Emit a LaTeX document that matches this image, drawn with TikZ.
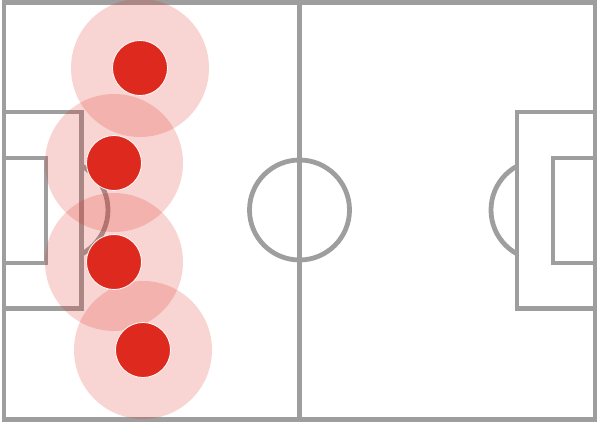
\documentclass[tikz,border=0pt]{standalone}
\usetikzlibrary{positioning}
\definecolor{pitchgray}{RGB}{158,158,158}
\definecolor{dotred}{RGB}{222,42,30}

\begin{document}
\begin{tikzpicture}[x=1pt, y=-1pt,
    pitchline/.style={draw=pitchgray, line width=4.8pt},
    halo/.style={circle, fill=dotred, fill opacity=0.2, minimum size=138pt, inner sep=0pt},
    player/.style={circle, fill=dotred, draw=white, line width=0.8pt, minimum size=55pt, inner sep=0pt}]
    \useasboundingbox (0,0) rectangle (599,422);
    % pitch
    \draw[pitchline] (4,2.5) rectangle (595,419.5);
    \draw[pitchline] (299.5,2.5) -- (299.5,419.5);
    \draw[pitchline] (299.5,210) circle[radius=50pt];
    % left end
    \draw[pitchline] (4,112) rectangle (81.5,308.5);
    \draw[pitchline] (4,158) rectangle (46,263);
    \begin{scope}
      \clip (81.5,120) rectangle (130,300);
      \draw[pitchline] (58,210) circle[radius=50pt];
    \end{scope}
    % right end
    \draw[pitchline] (595,112) rectangle (517,308.5);
    \draw[pitchline] (595,158) rectangle (553,263);
    \begin{scope}
      \clip (470,120) rectangle (517,300);
      \draw[pitchline] (541,210) circle[radius=50pt];
    \end{scope}
    % players
    \node[halo] (h1) at (140,68) {};
    \node[halo] (h2) at (114,163) {};
    \node[halo] (h3) at (114,262) {};
    \node[halo] (h4) at (143,350) {};
    \node[player] (p1) at (h1.center) {};
    \node[player] (p2) at (h2.center) {};
    \node[player] (p3) at (h3.center) {};
    \node[player] (p4) at (h4.center) {};
\end{tikzpicture}
\end{document}
